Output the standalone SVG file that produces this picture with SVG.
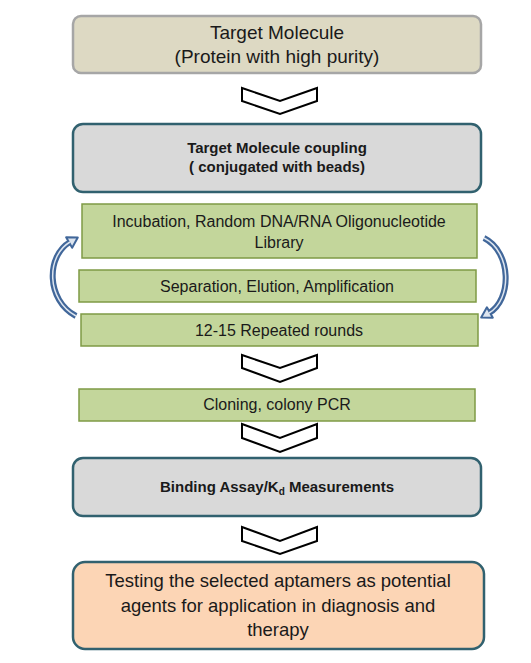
<svg xmlns="http://www.w3.org/2000/svg" width="531" height="663" viewBox="0 0 531 663">
<style>
  text { font-family: "Liberation Sans", Arial, sans-serif; fill: #1a1a1a; text-anchor: middle; }
  .reg { font-size: 19px; }
  .bold { font-size: 15px; font-weight: bold; }
  .green { font-size: 16px; }
  .peach { font-size: 18.5px; }
  .teal { stroke: #31616f; stroke-width: 2.5; }
  .gbox { fill: #c3d69b; stroke: #7f9a45; stroke-width: 1.5; }
  .chev { fill: #ffffff; stroke: #000000; stroke-width: 2; stroke-linejoin: miter; }
  .arcOut { fill: none; stroke: #41679a; stroke-width: 6; }
  .arcIn { fill: none; stroke: #dde5ef; stroke-width: 1.5; }
</style>
<defs>
  <marker id="ah" markerUnits="userSpaceOnUse" markerWidth="18" markerHeight="18" refX="1" refY="0" viewBox="-2 -9 15 18" orient="auto">
    <path d="M0,-6 L10,0 L0,6 Z" fill="#dde5ef" stroke="#41679a" stroke-width="2" stroke-linejoin="round"/>
  </marker>
</defs>
<rect width="531" height="663" fill="#ffffff"/>

<g id="connectors">
  <polygon class="chev" points="242,88 280,101 317,88 317,101 280,114 242,101"/>
  <polygon class="chev" points="242,355 280,368 317,355 317,368 280,382 242,368"/>
  <polygon class="chev" points="242,424 280,438 317,424 317,438 280,452 242,438"/>
  <polygon class="chev" points="242,527 280,541 317,527 317,541 280,554 242,541"/>
  <g id="loop-left">
    <path class="arcOut" d="M76,316 C46,300 46,256 70,242" marker-end="url(#ah)"/>
    <path class="arcIn" d="M76,316 C46,300 46,256 70,242"/>
  </g>
  <g id="loop-right">
    <path class="arcOut" d="M484,238 C512,252 512,300 489,313" marker-end="url(#ah)"/>
    <path class="arcIn" d="M484,238 C512,252 512,300 489,313"/>
  </g>
</g>

<g id="target-molecule">
  <rect x="73" y="16" width="408" height="57" rx="8" fill="#ddd9c3" stroke="#a6a6a6" stroke-width="2.5"/>
  <text class="reg" x="277" y="39">Target Molecule</text>
  <text class="reg" x="277" y="63">(Protein with high purity)</text>
</g>

<g id="coupling">
  <rect class="teal" x="73" y="124" width="408" height="68" rx="10" fill="#d9d9d9"/>
  <text class="bold" x="277" y="153">Target Molecule coupling</text>
  <text class="bold" x="277" y="172">( conjugated with beads)</text>
</g>

<g id="incubation">
  <rect class="gbox" x="82" y="204" width="395" height="54"/>
  <text class="green" x="279" y="227">Incubation, Random DNA/RNA Oligonucleotide</text>
  <text class="green" x="279" y="248">Library</text>
</g>

<g id="separation">
  <rect class="gbox" x="79" y="270" width="397" height="32"/>
  <text class="green" x="277" y="292">Separation, Elution, Amplification</text>
</g>

<g id="repeated">
  <rect class="gbox" x="81" y="314" width="397" height="32"/>
  <text class="green" x="279" y="336">12-15 Repeated rounds</text>
</g>

<g id="cloning">
  <rect class="gbox" x="79" y="389" width="396" height="32"/>
  <text class="green" x="277" y="410">Cloning, colony PCR</text>
</g>

<g id="binding">
  <rect class="teal" x="73" y="458" width="408" height="58" rx="10" fill="#d9d9d9"/>
  <text class="bold" x="277" y="492">Binding Assay/K<tspan font-size="10" dy="3">d</tspan><tspan dy="-3"> Measurements</tspan></text>
</g>

<g id="testing">
  <rect class="teal" x="73" y="562" width="411" height="87" rx="12" fill="#fcd5b5"/>
  <text class="peach" x="278" y="587">Testing the selected aptamers as potential</text>
  <text class="peach" x="278" y="612">agents for application in diagnosis and</text>
  <text class="peach" x="278" y="636">therapy</text>
</g>
</svg>
